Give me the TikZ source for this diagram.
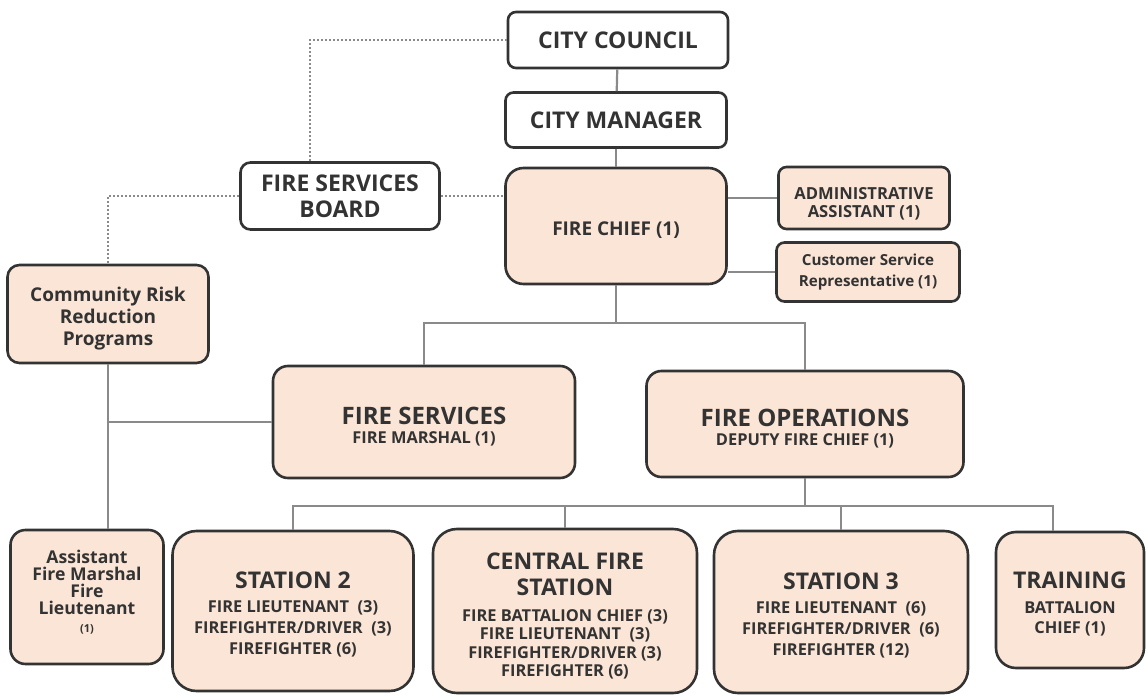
\documentclass[tikz,border=0pt]{standalone}
\usepackage{fontspec}
\setmainfont{Open Sans}
\definecolor{peach}{HTML}{FBE5D6}
\definecolor{ink}{HTML}{333333}
\definecolor{wire}{HTML}{8A8A8A}
\newcommand\fsz[2]{\fontsize{#1}{#2}\selectfont}
\newcommand\ttl[1]{{\fsz{11.5}{12}#1}}
\newcommand\lift[1]{\rule{0pt}{#1pt}}% taller first line pushes the text down
\tikzset{
  box/.style={draw=ink,line width=1.3pt,rounded corners=#1,align=center,text=ink,inner sep=1pt},
  box/.default=4pt,
  role/.style={box=#1,fill=peach},
  role/.default=8pt,
  wh/.style 2 args={minimum width=#1*0.5pt,minimum height=#2*0.5pt},
  txt/.style 2 args={font=\bfseries\fsz{#1}{#2}},
  conn/.style={draw=wire,line width=1.1pt},
  dotline/.style={draw=wire,line width=0.9pt,dash pattern=on 1pt off 1pt}
}
\begin{document}
\begin{tikzpicture}[x=0.5pt,y=-0.5pt]
\useasboundingbox (0,0) rectangle (1147,696);
% top of the chart
\node[box,wh={220}{56},txt={11.5}{13}] (council) at (618,40) {CITY COUNCIL};
\node[box,wh={221}{55},txt={11.5}{13}] (manager) at (616,120) {CITY MANAGER};
\node[role=9pt,wh={221}{116},txt={9.5}{11}] (chief) at (616,226) {\lift{10.8}FIRE CHIEF (1)};
\node[box=5pt,wh={199}{67},txt={11.5}{13}] (board) at (340,196) {FIRE SERVICES\\BOARD};
\node[role=4pt,wh={171}{62},txt={8.3}{9}] (admin) at (864,198) {\lift{12}ADMINISTRATIVE\\ASSISTANT (1)};
\node[role=4pt,wh={183}{59},txt={7.6}{10.5}] (csr) at (868,272) {Customer Service\\Representative (1)};
\node[role=6pt,wh={201}{98},txt={9.5}{11}] (crr) at (108,314) {\lift{11.3}Community Risk\\Reduction\\Programs};
% divisions
\node[role=7.5pt,wh={302}{112},txt={8.2}{10}] (fs) at (424,422) {{\fsz{12}{14}\lift{13.6}FIRE SERVICES}\\[-0.5pt]FIRE MARSHAL (1)};
\node[role=7.5pt,wh={317}{106},txt={8.2}{10}] (fo) at (805,424) {{\fsz{12}{14}\lift{13.6}FIRE OPERATIONS}\\[-0.5pt]DEPUTY FIRE CHIEF (1)};
% stations
\node[role=7.5pt,wh={153}{134},txt={8.8}{8.6}] (afm) at (87,597) {Assistant\\Fire Marshal\\Fire\\Lieutenant\\{\fsz{5.5}{8}(1)\rule[-6pt]{0pt}{6pt}}};
\node[role=12pt,wh={241}{160},txt={8.2}{10.5}] (st2) at (293,611) {\ttl{\lift{12.2}STATION 2}\\[1.5pt]FIRE LIEUTENANT\ \ (3)\\FIREFIGHTER/DRIVER\ \ (3)\\FIREFIGHTER (6)};
\node[role=12pt,wh={264}{164},txt={8.2}{9.3}] (cfs) at (565,611) {\ttl{\lift{13.2}CENTRAL FIRE}\\[3.7pt]\ttl{STATION}\\[3.7pt]FIRE BATTALION CHIEF (3)\\FIRE LIEUTENANT\ \ (3)\\FIREFIGHTER/DRIVER (3)\\FIREFIGHTER (6)};
\node[role=12pt,wh={254}{162},txt={8.2}{10.5}] (st3) at (841,612) {\ttl{\lift{12.2}STATION 3}\\[1.5pt]FIRE LIEUTENANT\ \ (6)\\FIREFIGHTER/DRIVER\ \ (6)\\FIREFIGHTER (12)};
\node[role=10pt,wh={148}{136},txt={8.2}{10}] (train) at (1070,600) {\ttl{\lift{12.2}TRAINING}\\[2.5pt]BATTALION\\CHIEF (1)};
% lines
\draw[conn] (council) -- (manager);
\draw[conn] (manager) -- (chief);
\draw[dotline] (council.west) -| ([xshift=-15pt]board.north);
\draw[dotline] (board.east) -- (board.east -| chief.west);
\draw[dotline] (board.west) -| (crr.north);
\draw[conn] (admin.west -| chief.east) -- (admin.west);
\draw[conn] (csr.west -| chief.east) -- (csr.west);
\coordinate (split) at (616,323);
\draw[conn] (chief) -- (split);
\draw[conn] (split) -| (fs);
\draw[conn] (split) -| (fo);
\draw[conn] (crr.south) -- (crr.south |- afm.north);
\draw[conn] (crr.south |- fs.west) -- (fs.west);
\coordinate (bus) at (805,506);
\draw[conn] (fo.south) -- (bus);
\draw[conn] (st2.north) |- (bus);
\draw[conn] (bus) -| ([xshift=-8.5pt]train.north);
\foreach \n in {cfs,st3}{\draw[conn] (\n.north) -- (\n.north |- bus);}
\end{tikzpicture}
\end{document}
